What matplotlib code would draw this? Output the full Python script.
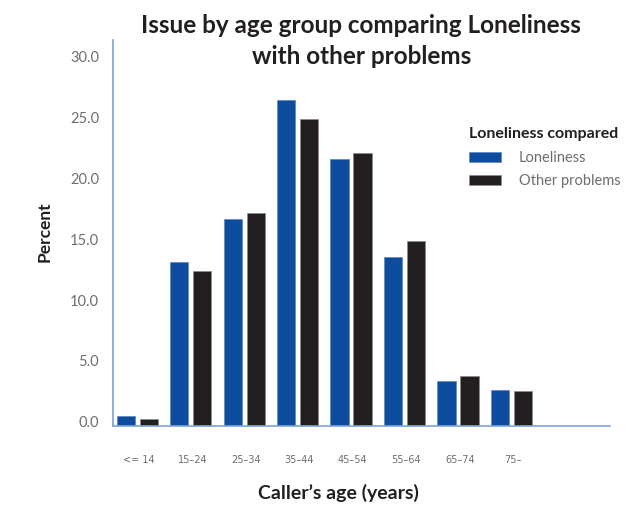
import matplotlib
matplotlib.use("Agg")
import matplotlib.pyplot as plt
import matplotlib.transforms as mtransforms
import numpy as np

categories = ["<= 14", "15\u201324", "25\u201334", "35\u201344", "45\u201354", "55\u201364", "65\u201374", "75\u2013"]
loneliness = [0.8, 13.5, 17.0, 26.8, 21.9, 13.9, 3.7, 2.95]
other_problems = [0.6, 12.7, 17.5, 25.2, 22.4, 15.2, 4.1, 2.9]
yticks = [0, 5, 10, 15, 20, 25, 30]

BLUE = "#0d4c9f"
BLACK = "#231f20"
SPINE = "#7ea4d8"
GREY = "#6d6e71"
DARK = "#231f20"

plt.rcParams['font.family'] = ['Lato', 'DejaVu Sans']

fig = plt.figure(figsize=(6.26, 5.09), dpi=100)
ax = fig.add_axes([113/626, 1-426/509, (610-113)/626, (426-40)/509])

x = np.arange(len(categories))
w = 0.345
off = 0.215
ax.bar(x - off, loneliness, width=w, color=BLUE, edgecolor="#5f86c4", linewidth=0.5, label="Loneliness")
ax.bar(x + off, other_problems, width=w, color=BLACK, edgecolor="#8a8a8a", linewidth=0.5, label="Other problems")

ax.set_xlim(-0.454, 8.84)
ax.set_ylim(0, 386/12.18)

for s in ["top", "right"]:
    ax.spines[s].set_visible(False)
for s in ["left", "bottom"]:
    ax.spines[s].set_color(SPINE)
    ax.spines[s].set_linewidth(1.2)

ax.set_yticks(yticks)
ax.set_yticklabels([f"{v:.1f}" for v in yticks], fontsize=10.5, color=GREY)
ax.tick_params(axis="y", length=0, pad=10)
shift = mtransforms.ScaledTranslation(0, 3/72, fig.dpi_scale_trans)
for lbl in ax.get_yticklabels():
    lbl.set_transform(lbl.get_transform() + shift)

ax.set_xticks(x + 0.03)
ax.set_xticklabels(categories, fontsize=7,
                   color=GREY, family=['Liberation Sans Narrow', 'DejaVu Sans'])
ax.tick_params(axis="x", length=0, pad=21)

fig.text(361/626, 1-33/509, "Issue by age group comparing Loneliness",
         ha="center", va="baseline", fontsize=17.5, fontweight="bold", color=DARK)
fig.text(362/626, 1-64/509, "with other problems",
         ha="center", va="baseline", fontsize=17.5, fontweight="bold", color=DARK)
fig.text(45/626, 1-232/509, "Percent", rotation=90, ha="center", va="center",
         fontsize=12.5, fontweight="bold", color=DARK)
fig.text(338/626, 1-493/509, "Caller\u2019s age (years)", ha="center", va="center",
         fontsize=14, fontweight="bold", color=DARK)

leg = ax.legend(loc="upper left", bbox_to_anchor=(469/626, 1-127/509), bbox_transform=fig.transFigure,
                frameon=False, title="Loneliness compared", alignment="left",
                fontsize=10.5, handlelength=2.2, handleheight=0.7, handletextpad=1.2,
                labelspacing=0.65, borderpad=0, borderaxespad=0)
leg.get_title().set_fontweight("bold")
leg.get_title().set_fontsize(11.5)
leg.get_title().set_color(DARK)
leg._legend_box.sep = 7
for t in leg.get_texts():
    t.set_color(GREY)

fig.savefig("out.png", dpi=100)
